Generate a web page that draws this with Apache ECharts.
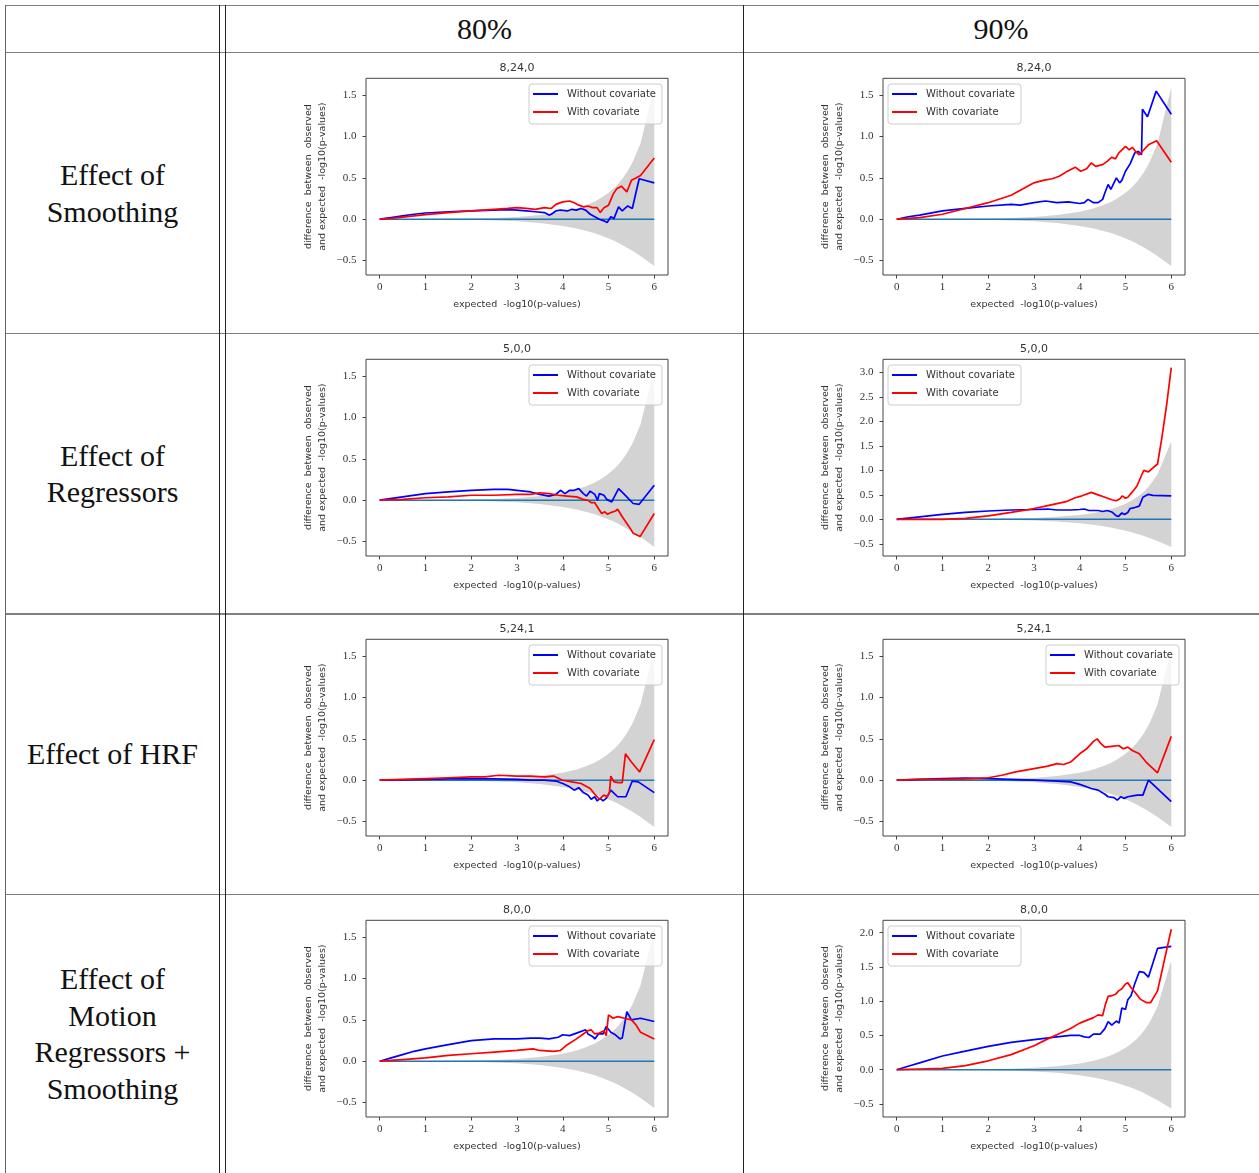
<!DOCTYPE html>
<html>
<head>
<meta charset="utf-8">
<title>QQ difference plots</title>
<script src="https://cdn.jsdelivr.net/npm/echarts@6/dist/echarts.min.js"></script>
<style>
    body { margin: 0; background: #fff; }
    #page { position: relative; width: 1259px; height: 1173px; overflow: hidden; }
    .hl { position: absolute; left: 5px; width: 1254px; height: 1.4px; background: #808080; }
    .vl { position: absolute; top: 4.5px; bottom: 0; width: 1px; background: #222; }
    .txt { position: absolute; font-family: 'Liberation Serif', serif; font-size: 30px; line-height: 36.5px;
           color: #111; text-align: center; white-space: nowrap; transform: translate(-50%, -50%); }
    .plot { position: absolute; width: 440px; height: 280px; }
</style>
</head>
<body>
<div id="page">
    <div class="hl" style="top:4.5px"></div>
    <div class="hl" style="top:52px"></div>
    <div class="hl" style="top:332.6px"></div>
    <div class="hl" style="top:613.2px"></div>
    <div class="hl" style="top:893.6px"></div>
    <div class="vl" style="left:5px;background:#666"></div>
    <div class="vl" style="left:219.3px"></div>
    <div class="vl" style="left:225.3px"></div>
    <div class="vl" style="left:743.2px"></div>

    <div class="txt" style="left:484.5px;top:29px">80%</div>
    <div class="txt" style="left:1001px;top:29px">90%</div>
    <div class="txt" style="left:112.5px;top:193px">Effect of<br>Smoothing</div>
    <div class="txt" style="left:112.5px;top:473.5px">Effect of<br>Regressors</div>
    <div class="txt" style="left:112.5px;top:754px">Effect of HRF</div>
    <div class="txt" style="left:112.5px;top:1034px">Effect of<br>Motion<br>Regressors +<br>Smoothing</div>

    <div class="plot" id="p00"></div><div class="plot" id="p01"></div>
    <div class="plot" id="p10"></div><div class="plot" id="p11"></div>
    <div class="plot" id="p20"></div><div class="plot" id="p21"></div>
    <div class="plot" id="p30"></div><div class="plot" id="p31"></div>
</div>
<script>
// ticks and axis limits
var xTicks = [0, 1, 2, 3, 4, 5, 6];
var yTicksStd = [-0.5, 0, 0.5, 1, 1.5];
var yTicksTo3 = [-0.5, 0, 0.5, 1, 1.5, 2, 2.5, 3];
var yTicksTo2 = [-0.5, 0, 0.5, 1, 1.5, 2];
var xLim = [-0.3, 6.3];
var yLimStd = [-0.675, 1.705];
var yLimTo3 = [-0.75, 3.27];
var yLimTo2 = [-0.69, 2.18];

// grey confidence band (same for every panel)
var bandX = [1, 2, 2.5, 3, 3.5, 4, 4.3, 4.52, 4.7, 4.85, 5, 5.097, 5.155, 5.222, 5.301, 5.398, 5.523, 5.699, 6];
var bandUp = [0.003, 0.009, 0.015, 0.028, 0.051, 0.090, 0.130, 0.171, 0.213, 0.263, 0.319, 0.365, 0.396, 0.435, 0.489, 0.565, 0.686, 0.917, 1.597];
var bandLo = [-0.003, -0.008, -0.015, -0.026, -0.045, -0.081, -0.113, -0.143, -0.171, -0.201, -0.233, -0.256, -0.271, -0.289, -0.311, -0.341, -0.382, -0.445, -0.567];

// expected line
var zeroX = [0, 6];
var zeroY = [0, 0];

// Effect of Smoothing
var smooth80Blue = [[0,0],[0.25,0.02],[0.5,0.04],[0.75,0.06],[1,0.075],[1.5,0.09],[2,0.1],[2.5,0.11],[2.8,0.115],[3,0.11],[3.2,0.1],[3.4,0.09],[3.6,0.08],[3.7,0.05],[3.75,0.06],[3.85,0.1],[3.95,0.11],[4.1,0.1],[4.2,0.12],[4.3,0.11],[4.4,0.13],[4.5,0.11],[4.6,0.06],[4.7,0.03],[4.8,0.0],[4.9,-0.02],[4.97,-0.04],[5.05,0.03],[5.12,0.01],[5.22,0.15],[5.3,0.1],[5.42,0.16],[5.52,0.13],[5.67,0.49],[6,0.44]];
var smooth80Red = [[0,0],[0.25,0.01],[0.5,0.025],[1,0.055],[1.5,0.08],[2,0.1],[2.5,0.12],[2.8,0.13],[3,0.14],[3.2,0.13],[3.4,0.12],[3.6,0.14],[3.75,0.13],[3.85,0.18],[4,0.21],[4.15,0.22],[4.25,0.2],[4.35,0.17],[4.45,0.15],[4.55,0.16],[4.65,0.14],[4.75,0.14],[4.82,0.08],[4.9,0.14],[5,0.17],[5.1,0.3],[5.18,0.37],[5.28,0.4],[5.4,0.33],[5.5,0.47],[5.6,0.5],[5.7,0.53],[6,0.74]];
var smooth90Blue = [[0,0],[0.25,0.03],[0.5,0.05],[1,0.1],[1.5,0.13],[2,0.16],[2.5,0.18],[2.7,0.17],[3,0.2],[3.25,0.22],[3.5,0.2],[3.75,0.21],[4,0.19],[4.1,0.2],[4.18,0.24],[4.3,0.2],[4.4,0.2],[4.5,0.24],[4.55,0.32],[4.62,0.42],[4.68,0.36],[4.72,0.36],[4.8,0.5],[4.87,0.44],[4.92,0.47],[5,0.58],[5.1,0.67],[5.2,0.8],[5.28,0.82],[5.35,0.78],[5.37,1.33],[5.48,1.24],[5.67,1.55],[6,1.27]];
var smooth90Red = [[0,0],[0.5,0.02],[1,0.06],[1.5,0.13],[2,0.2],[2.5,0.29],[2.8,0.38],[3,0.44],[3.2,0.47],[3.4,0.49],[3.55,0.52],[3.7,0.57],[3.9,0.63],[4.02,0.58],[4.15,0.61],[4.25,0.68],[4.35,0.64],[4.5,0.66],[4.6,0.7],[4.7,0.75],[4.78,0.73],[4.85,0.8],[5,0.88],[5.08,0.84],[5.15,0.87],[5.22,0.82],[5.3,0.78],[5.4,0.84],[5.5,0.9],[5.68,0.95],[6,0.69]];

// Effect of Regressors
var regr80Blue = [[0,0],[0.5,0.04],[1,0.08],[1.5,0.1],[2,0.12],[2.5,0.13],[2.8,0.13],[3,0.12],[3.3,0.1],[3.5,0.07],[3.7,0.05],[3.85,0.07],[3.95,0.12],[4.05,0.08],[4.15,0.12],[4.25,0.12],[4.35,0.14],[4.45,0.08],[4.52,0.05],[4.6,0.11],[4.7,0.07],[4.76,0.0],[4.8,0.08],[4.9,0.06],[4.96,0.01],[5.07,-0.02],[5.22,0.14],[5.33,0.08],[5.54,-0.04],[5.67,-0.05],[6,0.18]];
var regr80Red = [[0,0],[0.5,0.01],[1,0.03],[1.5,0.04],[2,0.06],[2.5,0.06],[3,0.07],[3.3,0.07],[3.5,0.09],[3.7,0.08],[3.9,0.06],[4.1,0.05],[4.3,0.04],[4.45,0.01],[4.55,0.0],[4.62,-0.03],[4.7,-0.03],[4.78,-0.1],[4.85,-0.16],[4.92,-0.14],[4.98,-0.17],[5.05,-0.15],[5.15,-0.13],[5.2,-0.11],[5.3,-0.2],[5.45,-0.32],[5.54,-0.4],[5.69,-0.44],[6,-0.16]];
var regr90Blue = [[0,0],[0.5,0.05],[1,0.1],[1.5,0.14],[2,0.17],[2.5,0.19],[3,0.2],[3.3,0.21],[3.5,0.19],[3.8,0.19],[4,0.2],[4.1,0.21],[4.2,0.18],[4.4,0.18],[4.5,0.16],[4.6,0.18],[4.7,0.15],[4.8,0.07],[4.85,0.06],[4.92,0.13],[4.98,0.1],[5.05,0.14],[5.1,0.22],[5.2,0.24],[5.3,0.27],[5.38,0.45],[5.5,0.51],[5.6,0.49],[6,0.48]];
var regr90Red = [[0,0],[0.5,0.0],[1,0.0],[1.5,0.02],[2,0.07],[2.5,0.14],[3,0.22],[3.3,0.28],[3.5,0.32],[3.7,0.36],[3.9,0.44],[4.05,0.48],[4.25,0.55],[4.4,0.5],[4.55,0.45],[4.7,0.4],[4.8,0.38],[4.88,0.42],[4.93,0.48],[5,0.43],[5.05,0.45],[5.15,0.56],[5.25,0.68],[5.35,0.9],[5.4,1.0],[5.5,0.97],[5.6,1.05],[5.7,1.13],[5.8,1.7],[5.9,2.35],[6,3.1]];

// Effect of HRF
var hrf80Blue = [[0,0],[0.5,0.005],[1,0.01],[1.5,0.015],[2,0.02],[2.5,0.015],[3,0.01],[3.3,0.0],[3.6,0.0],[3.85,-0.01],[4,-0.04],[4.15,-0.08],[4.25,-0.12],[4.35,-0.09],[4.45,-0.15],[4.55,-0.18],[4.62,-0.23],[4.7,-0.2],[4.75,-0.25],[4.82,-0.22],[4.88,-0.25],[4.95,-0.22],[5.05,-0.12],[5.2,-0.2],[5.38,-0.2],[5.52,-0.01],[5.65,-0.02],[6,-0.15]];
var hrf80Red = [[0,0],[0.5,0.01],[1,0.02],[1.5,0.03],[2,0.04],[2.3,0.04],[2.6,0.06],[3,0.05],[3.3,0.05],[3.6,0.04],[3.8,0.05],[4,0.0],[4.2,-0.02],[4.4,-0.04],[4.5,-0.07],[4.6,-0.1],[4.7,-0.17],[4.8,-0.23],[4.9,-0.18],[4.97,-0.2],[5.02,-0.15],[5.05,0.05],[5.12,-0.02],[5.22,-0.03],[5.3,-0.03],[5.37,0.32],[5.5,0.22],[5.68,0.1],[6,0.49]];
var hrf90Blue = [[0,0],[0.5,0.01],[1,0.02],[1.5,0.025],[2,0.02],[2.5,0.01],[3,0.0],[3.5,-0.01],[3.8,-0.02],[4,-0.05],[4.15,-0.08],[4.25,-0.1],[4.4,-0.12],[4.55,-0.17],[4.62,-0.2],[4.75,-0.21],[4.82,-0.24],[4.9,-0.2],[4.97,-0.22],[5.05,-0.2],[5.25,-0.18],[5.38,-0.18],[5.5,0.0],[5.6,-0.05],[5.75,-0.13],[6,-0.26]];
var hrf90Red = [[0,0],[0.5,0.01],[1,0.01],[1.5,0.015],[2,0.03],[2.3,0.06],[2.6,0.1],[3,0.14],[3.3,0.17],[3.5,0.2],[3.65,0.19],[3.8,0.22],[4,0.32],[4.15,0.38],[4.3,0.47],[4.38,0.5],[4.45,0.45],[4.55,0.4],[4.7,0.41],[4.85,0.42],[4.95,0.38],[5.05,0.4],[5.15,0.36],[5.3,0.32],[5.45,0.22],[5.7,0.09],[6,0.53]];

// Effect of Motion Regressors + Smoothing
var motion80Blue = [[0,0],[0.25,0.04],[0.5,0.08],[0.75,0.12],[1,0.15],[1.5,0.2],[2,0.25],[2.5,0.27],[3,0.27],[3.3,0.28],[3.5,0.28],[3.7,0.27],[3.9,0.29],[4,0.32],[4.15,0.31],[4.3,0.34],[4.5,0.38],[4.55,0.33],[4.65,0.3],[4.7,0.27],[4.78,0.33],[4.88,0.33],[4.95,0.42],[5.05,0.35],[5.15,0.32],[5.25,0.27],[5.3,0.28],[5.4,0.6],[5.5,0.5],[5.7,0.52],[6,0.48]];
var motion80Red = [[0,0],[0.5,0.02],[1,0.04],[1.5,0.07],[2,0.09],[2.5,0.11],[3,0.13],[3.35,0.15],[3.5,0.13],[3.8,0.12],[3.95,0.13],[4.1,0.2],[4.3,0.27],[4.45,0.33],[4.55,0.37],[4.62,0.38],[4.7,0.33],[4.8,0.34],[4.9,0.37],[4.95,0.31],[5.0,0.56],[5.1,0.52],[5.2,0.54],[5.35,0.52],[5.5,0.5],[5.6,0.44],[5.7,0.35],[6,0.27]];
var motion90Blue = [[0,0],[0.25,0.05],[0.5,0.1],[1,0.2],[1.5,0.27],[2,0.34],[2.5,0.4],[3,0.44],[3.5,0.48],[3.8,0.5],[4,0.5],[4.1,0.48],[4.2,0.47],[4.3,0.52],[4.45,0.52],[4.55,0.6],[4.62,0.7],[4.7,0.65],[4.8,0.71],[4.86,0.68],[4.92,0.9],[5,0.88],[5.05,1.02],[5.12,1.08],[5.2,1.25],[5.3,1.43],[5.4,1.42],[5.5,1.35],[5.7,1.77],[6,1.8]];
var motion90Red = [[0,0],[0.5,0.01],[1,0.02],[1.5,0.06],[2,0.13],[2.5,0.22],[3,0.35],[3.3,0.45],[3.5,0.51],[3.8,0.6],[4,0.68],[4.15,0.72],[4.3,0.76],[4.4,0.8],[4.5,0.79],[4.56,0.95],[4.62,1.07],[4.7,1.08],[4.78,1.1],[4.85,1.15],[4.92,1.18],[5,1.25],[5.05,1.27],[5.12,1.2],[5.22,1.12],[5.32,1.03],[5.45,0.98],[5.55,0.98],[5.7,1.15],[5.85,1.6],[6,2.05]];

var titles = ['8,24,0', '5,0,0', '5,24,1', '8,0,0'];

(function() {
    var panels = [
        {row: 0, col: 0, blue: smooth80Blue, red: smooth80Red, yLim: yLimStd, yTicks: yTicksStd, legendLeft: false},
        {row: 0, col: 1, blue: smooth90Blue, red: smooth90Red, yLim: yLimStd, yTicks: yTicksStd, legendLeft: true},
        {row: 1, col: 0, blue: regr80Blue, red: regr80Red, yLim: yLimStd, yTicks: yTicksStd, legendLeft: false},
        {row: 1, col: 1, blue: regr90Blue, red: regr90Red, yLim: yLimTo3, yTicks: yTicksTo3, legendLeft: true},
        {row: 2, col: 0, blue: hrf80Blue, red: hrf80Red, yLim: yLimStd, yTicks: yTicksStd, legendLeft: false},
        {row: 2, col: 1, blue: hrf90Blue, red: hrf90Red, yLim: yLimStd, yTicks: yTicksStd, legendLeft: false},
        {row: 3, col: 0, blue: motion80Blue, red: motion80Red, yLim: yLimStd, yTicks: yTicksStd, legendLeft: false},
        {row: 3, col: 1, blue: motion90Blue, red: motion90Red, yLim: yLimTo2, yTicks: yTicksTo2, legendLeft: true}
    ];

    var axisColor = '#444';
    var sans = 'DejaVu Sans';
    var serif = 'Liberation Serif';
    var charts = [];

    function pairs(xs, ys) {
        return xs.map(function(x, i) { return [x, ys[i]]; });
    }

    function fmtY(v) {
        return (v < 0 ? '\u2212' : '') + Math.abs(v).toFixed(1);
    }

    panels.forEach(function(p) {
        var el = document.getElementById('p' + p.row + p.col);
        el.style.left = (p.col === 0 ? 297 : 814) + 'px';
        el.style.top = (53 + 280.5 * p.row) + 'px';

        var legend = {
            orient: 'vertical',
            top: 31,
            icon: 'rect',
            itemWidth: 25,
            itemHeight: 2,
            itemGap: 0,
            padding: [1, 6, 3, 4],
            borderColor: '#cccccc',
            borderWidth: 1,
            borderRadius: 3,
            backgroundColor: 'rgba(255,255,255,0.8)',
            textStyle: {fontFamily: sans, fontSize: 10, color: '#333', lineHeight: 18, padding: [0, 0, 0, 4]},
            data: ['Without covariate', 'With covariate']
        };
        if (p.legendLeft) legend.left = 74; else legend.right = 75;

        var myChart = echarts.init(el);
        var option = {
            animation: false,
            title: {
                text: titles[p.row],
                left: 'center',
                top: 9.5,
                padding: 0,
                textStyle: {fontFamily: sans, fontSize: 11, fontWeight: 'normal', color: '#333'}
            },
            legend: legend,
            grid: {
                left: 69, top: 25.3, width: 302, height: 196.7,
                show: true, borderColor: axisColor, borderWidth: 1,
                containLabel: false, outerBoundsMode: 'none'
            },
            xAxis: {
                type: 'value',
                min: xLim[0],
                max: xLim[1],
                axisLine: {show: false, onZero: false},
                splitLine: {show: false},
                axisTick: {customValues: xTicks, length: 3.5, lineStyle: {color: axisColor}},
                axisLabel: {
                    customValues: xTicks, margin: 7,
                    fontFamily: serif, fontSize: 11, color: '#333',
                    formatter: function(v) { return String(v); }
                },
                name: 'expected  -log10(p-values)',
                nameLocation: 'middle',
                nameGap: 24.5,
                nameMoveOverlap: false,
                nameTextStyle: {fontFamily: sans, fontSize: 9.5, color: '#333'}
            },
            yAxis: {
                type: 'value',
                min: p.yLim[0],
                max: p.yLim[1],
                axisLine: {show: false, onZero: false},
                splitLine: {show: false},
                axisTick: {customValues: p.yTicks, length: 3.5, lineStyle: {color: axisColor}},
                axisLabel: {
                    customValues: p.yTicks, margin: 9.5,
                    fontFamily: serif, fontSize: 11, color: '#333',
                    formatter: fmtY
                },
                name: 'difference  between  observed\nand expected  -log10(p-values)',
                nameLocation: 'middle',
                nameGap: 36,
                nameMoveOverlap: false,
                nameTextStyle: {fontFamily: sans, fontSize: 9.5, color: '#333', lineHeight: 14}
            },
            series: [
                {
                    name: 'bandUp', type: 'line', data: pairs(bandX, bandUp),
                    symbol: 'none', silent: true, z: 1,
                    lineStyle: {width: 0}, areaStyle: {color: '#d3d3d3', opacity: 1}
                },
                {
                    name: 'bandLo', type: 'line', data: pairs(bandX, bandLo),
                    symbol: 'none', silent: true, z: 1,
                    lineStyle: {width: 0}, areaStyle: {color: '#d3d3d3', opacity: 1}
                },
                {
                    name: 'expected', type: 'line', data: pairs(zeroX, zeroY),
                    symbol: 'none', silent: true, z: 2,
                    lineStyle: {color: '#1f77b4', width: 1.5}
                },
                {
                    name: 'Without covariate', type: 'line', data: p.blue,
                    symbol: 'none', z: 3, color: '#0000ff',
                    lineStyle: {color: '#0000ff', width: 1.7}
                },
                {
                    name: 'With covariate', type: 'line', data: p.red,
                    symbol: 'none', z: 4, color: '#ff0000',
                    lineStyle: {color: '#ff0000', width: 1.7}
                }
            ]
        };
        myChart.setOption(option);
        charts.push(myChart);
    });

    window.addEventListener('resize', function() {
        charts.forEach(function(c) { c.resize(); });
    });
})();
</script>
</body>
</html>
